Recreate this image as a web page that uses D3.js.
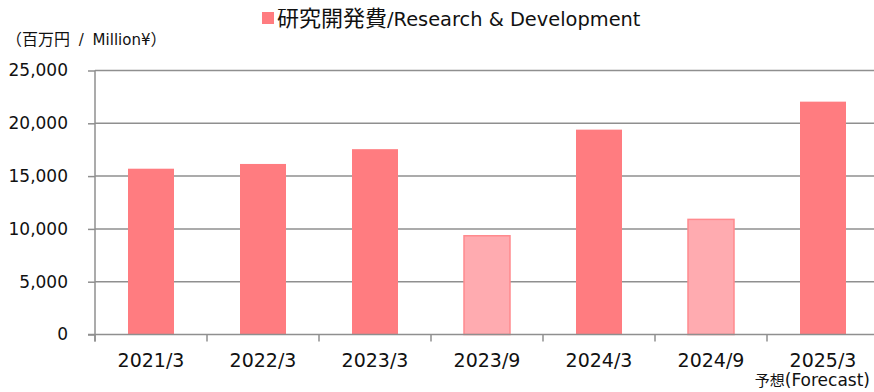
<!DOCTYPE html>
<html>
<head>
<meta charset="utf-8">
<script src="https://cdn.jsdelivr.net/npm/d3@7"></script>
<style>
  html, body { margin: 0; padding: 0; background: #fff; }
  svg { display: block; }
  text { font-family: "DejaVu Sans", "Noto Sans CJK JP", sans-serif; fill: #111; }
  .cjk { font-family: "Noto Sans CJK JP", sans-serif; }
</style>
</head>
<body>
<svg id="chart" width="874" height="392"></svg>
<script>
// Research & development expenses (million yen)
const categories = ["2021/3", "2022/3", "2023/3", "2023/9", "2024/3", "2024/9", "2025/3"];
const values = [15700, 16150, 17550, 9350, 19400, 10900, 22050];
// half-year (interim) periods drawn in a lighter tint
const interim = [false, false, false, true, false, true, false];
const yTicks = [0, 5000, 10000, 15000, 20000, 25000];

const svg = d3.select("#chart");
const margin = { left: 95, right: -5, top: 70.5, bottom: 57.5 };
const W = 874, H = 392;

const x = d3.scaleBand()
  .domain(categories)
  .range([margin.left, W - margin.right])
  .paddingInner(0).paddingOuter(0);

const y = d3.scaleLinear()
  .domain([0, 25000])
  .range([H - margin.bottom, margin.top]);

const gridColor = "#8f8f8f";

// horizontal gridlines
svg.append("g")
  .selectAll("line")
  .data(yTicks.filter(d => d > 0))
  .join("line")
  .attr("x1", margin.left)
  .attr("x2", W)
  .attr("y1", d => y(d))
  .attr("y2", d => y(d))
  .attr("stroke", gridColor)
  .attr("stroke-width", 1.5);

// bars
const barW = 46;
svg.append("g")
  .selectAll("rect")
  .data(categories)
  .join("rect")
  .attr("x", d => x(d) + x.bandwidth() / 2 - barW / 2)
  .attr("width", barW)
  .attr("y", (d, i) => y(values[i]))
  .attr("height", (d, i) => y(0) - y(values[i]))
  .attr("fill", (d, i) => interim[i] ? "#ffabb0" : "#ff7c80")
  .attr("stroke", (d, i) => interim[i] ? "#ff8a8e" : "none")
  .attr("stroke-width", 1.5);

// y axis
const yAxis = svg.append("g")
  .attr("transform", `translate(${margin.left},0)`)
  .call(d3.axisLeft(y).tickValues(yTicks).tickSize(7).tickPadding(20)
    .tickFormat(d3.format(",")));
yAxis.select(".domain").remove();
yAxis.selectAll(".tick line").attr("stroke", gridColor).attr("stroke-width", 1.5);
yAxis.selectAll("text")
  .style("font-family", "'DejaVu Sans', sans-serif")
  .style("font-size", "17px")
  .attr("fill", "#111");
svg.append("line")
  .attr("x1", margin.left).attr("x2", margin.left)
  .attr("y1", y(25000)).attr("y2", y(0) + 7)
  .attr("stroke", gridColor).attr("stroke-width", 1.5);

// x axis baseline and boundary ticks
svg.append("line")
  .attr("x1", margin.left - 7).attr("x2", W)
  .attr("y1", y(0)).attr("y2", y(0))
  .attr("stroke", gridColor).attr("stroke-width", 1.5);
svg.append("g")
  .selectAll("line")
  .data(categories)
  .join("line")
  .attr("x1", d => x(d)).attr("x2", d => x(d))
  .attr("y1", y(0)).attr("y2", y(0) + 7)
  .attr("stroke", gridColor).attr("stroke-width", 1.5);

// category labels
svg.append("g")
  .selectAll("text")
  .data(categories)
  .join("text")
  .attr("x", d => x(d) + x.bandwidth() / 2)
  .attr("y", y(0) + 32.5)
  .attr("text-anchor", "middle")
  .style("font-size", "19px")
  .text(d => d);

const fc = svg.append("text")
  .attr("x", 870).attr("y", 386)
  .attr("text-anchor", "end");
fc.append("tspan").attr("class", "cjk").style("font-size", "15px").text("予想");
fc.append("tspan").style("font-size", "17px").text("(Forecast)");

// unit label
const unit = svg.append("text").attr("x", 6).attr("y", 45);
unit.append("tspan").attr("class", "cjk").style("font-size", "16px").text("（百万円");
unit.append("tspan").style("font-size", "15px").attr("dx", 4).text(" / ");
unit.append("tspan").style("font-size", "15px").attr("dx", 4).text("Million¥");
unit.append("tspan").attr("class", "cjk").style("font-size", "16px").text("）");

// legend
svg.append("rect")
  .attr("x", 262).attr("y", 12).attr("width", 12).attr("height", 12)
  .attr("fill", "#ff7c80");
const leg = svg.append("text").attr("x", 277).attr("y", 26);
leg.append("tspan").attr("class", "cjk").style("font-size", "22px").text("研究開発費");
leg.append("tspan").style("font-size", "19.4px").text("/Research & Development");
</script>
</body>
</html>
